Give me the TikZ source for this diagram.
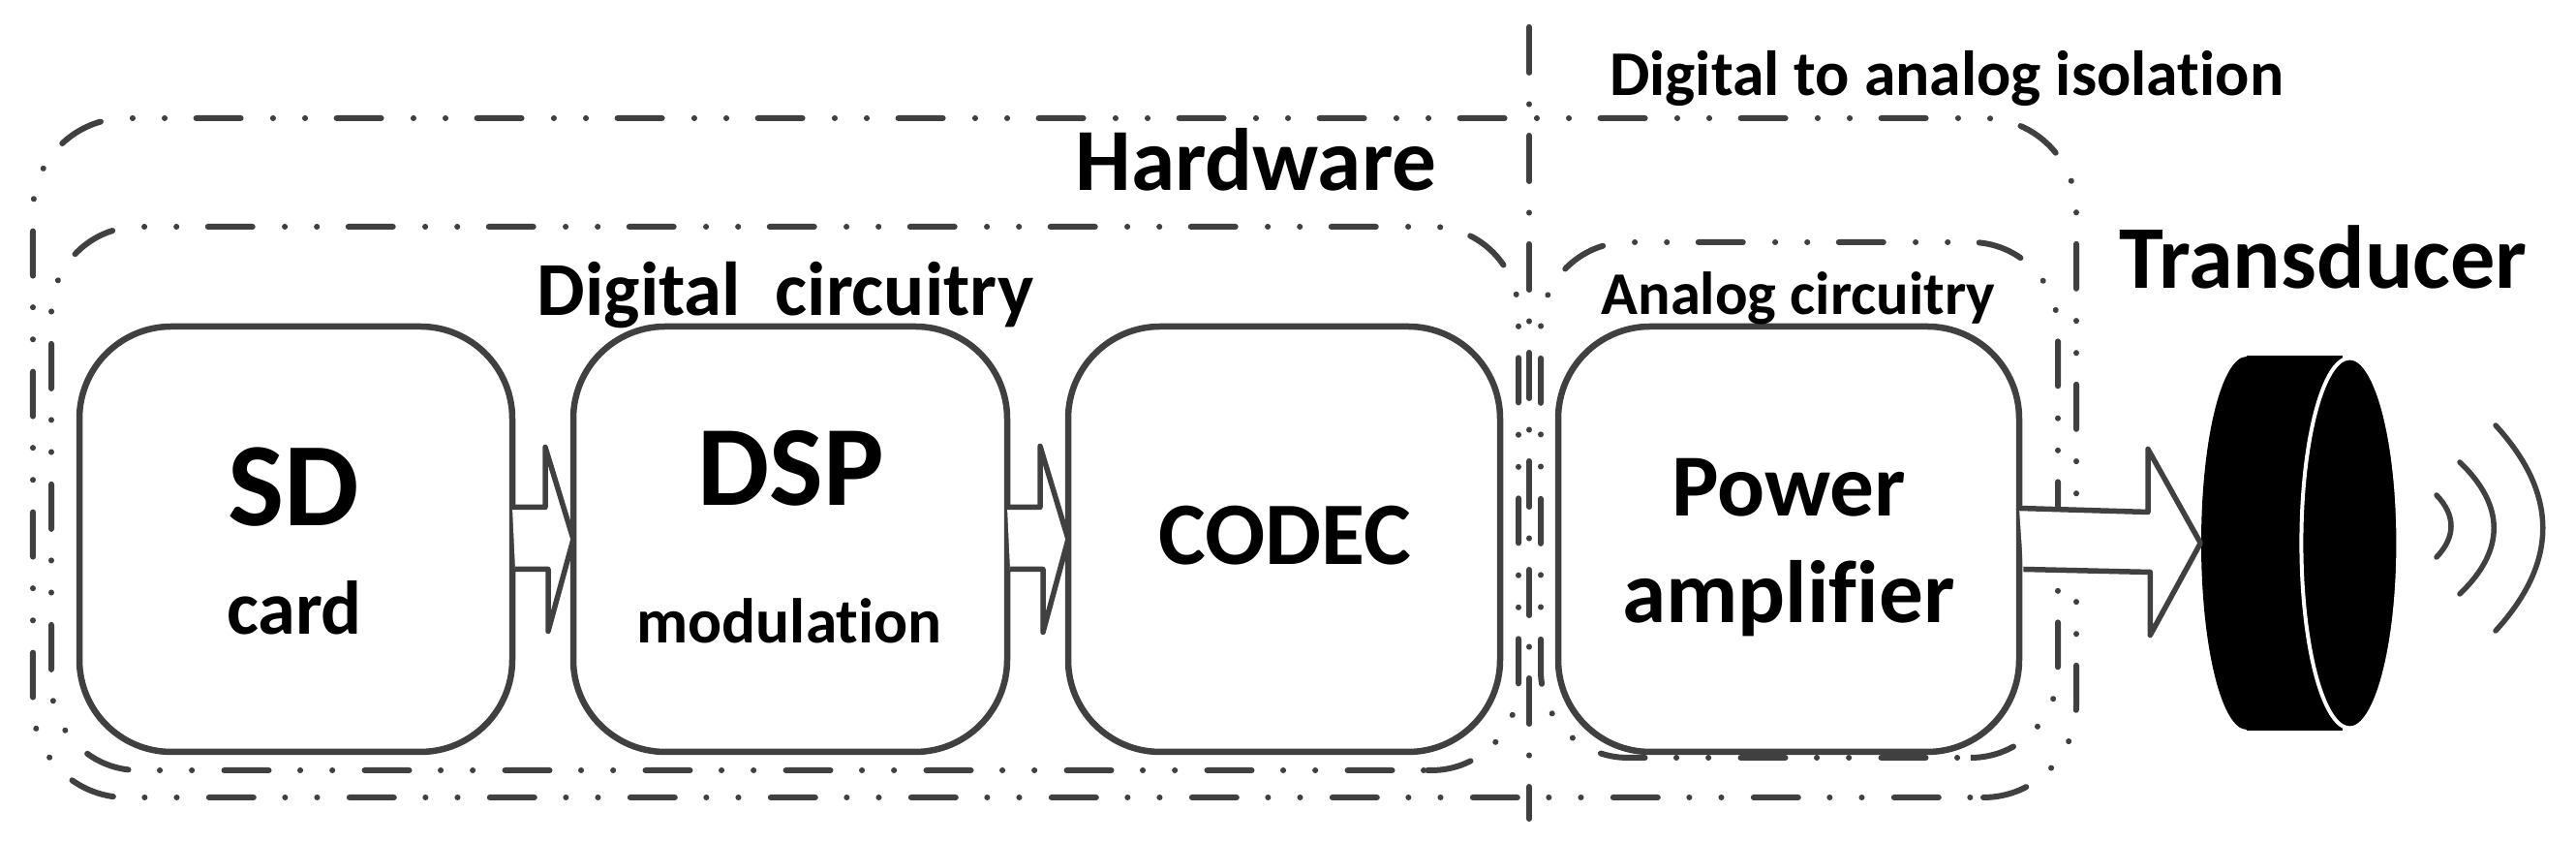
\documentclass[tikz,border=0pt]{standalone}
\usepackage{fontspec}
\setmainfont{Carlito}[Ligatures=NoCommon]
\usepackage{xcolor}
\usetikzlibrary{positioning,shapes.geometric,calc}
\definecolor{lineGray}{HTML}{404040}
\newcommand{\boldsize}[1]{\fontsize{#1}{#1}\selectfont\bfseries}
\tikzset{
  groupline/.style={draw=lineGray,line width=0.06cm,line cap=round,rounded corners=0.96cm,
    dash pattern=on 0.46cm off 0.325cm on 0.001cm off 0.33cm on 0.001cm off 0.333cm},
  blockbox/.style={draw=lineGray,line width=0.065cm,rounded corners=0.95cm,
    inner sep=0pt,outer sep=0pt,minimum height=4.39cm},
  flowarrow/.style={draw=lineGray,fill=white,line width=0.055cm,line join=round},
  isoline/.style={draw=lineGray,line width=0.06cm,line cap=round,
    dash pattern=on 0.47cm off 0.325cm on 0.001cm off 0.324cm},
  wave/.style={draw=lineGray,line width=0.055cm,line cap=round},
  tag/.style={text=black,inner sep=0pt,outer sep=0pt}
}
\begin{document}
\begin{tikzpicture}
  \useasboundingbox (0,0) rectangle (26.6,8.7);

  % dashed groups
  \draw[groupline] (20.48,0.47) -- (21.44,0.47) -- (21.44,7.48) -- (0.34,7.48) -- (0.34,0.47) -- (20.48,0.47);
  \draw[groupline,rounded corners=0.90cm] (14.74,0.75) -- (15.68,0.75) -- (15.68,6.36) -- (0.53,6.36) -- (0.53,0.75) -- (14.74,0.75);
  \draw[groupline,rounded corners=0.90cm] (20.35,0.88) -- (21.25,0.88) -- (21.25,6.20) -- (15.91,6.20) -- (15.91,0.88) -- (20.35,0.88);
  \coordinate (isotop) at (15.79,8.42);
  \coordinate (isobot) at (15.79,0.25);
  \draw[isoline] (isotop) -- (isobot);

  % blocks
  \node[blockbox,minimum width=4.47cm,anchor=south west] (sd) at (0.82,0.94) {};
  \node[blockbox,minimum width=4.48cm,right=0.63cm of sd] (dsp) {};
  \node[blockbox,minimum width=4.46cm,right=0.63cm of dsp] (codec) {};
  \node[blockbox,minimum width=4.76cm,right=0.60cm of codec] (power) {};

  % transducer
  \node[ellipse,fill=black,inner sep=0pt,minimum width=0.94cm,minimum height=3.85cm] (back) at (23.20,3.095) {};
  \node[ellipse,fill=black,inner sep=0pt,minimum width=1.00cm,minimum height=3.82cm,right=0.08cm of back] (front) {};
  \fill[black] (back.north) rectangle ([xshift=-0.07cm]back.south -| front.center);
  \node[ellipse,draw=white,fill=black,line width=0.04cm,inner sep=0pt,minimum width=1.00cm,minimum height=3.82cm] (face) at (front) {};

  % arrows
  \draw[flowarrow] ([yshift=0.33cm]sd.east) -- ++(0.34,0) -- ++(0,0.62) -- (dsp.west) -- ++(-0.26,-0.95) -- ++(0,0.64) -- ++(-0.34,0);
  \draw[flowarrow] ([yshift=0.33cm]dsp.east) -- ++(0.34,0) -- ++(0,0.63) -- (codec.west) -- ++(-0.26,-0.96) -- ++(0,0.65) -- ++(-0.34,0);
  \draw[flowarrow] ([yshift=0.32cm]power.east) -- ++(1.33,-0.04) -- ++(0,0.65) -- (back.west) -- ++(-0.52,-0.95) -- ++(0,0.65) -- ++(-1.31,0.03);

  % waves
  \draw[wave] (25.16,3.59) .. controls (25.36,3.38) and (25.36,3.16) .. (25.16,2.95);
  \draw[wave] (25.40,3.93) .. controls (25.87,3.48) and (25.87,3.02) .. (25.40,2.57);
  \draw[wave] (25.77,4.31) .. controls (26.42,3.60) and (26.42,2.90) .. (25.77,2.19);

  % labels
  \node[tag,font=\boldsize{26}] (hwlabel) at (12.97,7.05) {Hardware};
  \node[tag,font=\boldsize{22.4}] (diglabel) at (8.11,5.65) {Digital\ \ circuitry};
  \node[tag,font=\boldsize{17.8}] (anlabel) at (18.57,5.62) {Analog circuitry};
  \node[tag,font=\boldsize{18.7}] (isolabel) at (20.10,7.89) {Digital to analog isolation};
  \node[tag,font=\boldsize{26.3}] (trlabel) at (23.99,6.05) {Transducer};
  \node[tag,font=\boldsize{35}] (sdlabel) at (3.03,3.67) {SD};
  \node[tag,font=\boldsize{22.3}] (cardlabel) at (3.04,2.43) {card};
  \node[tag,font=\boldsize{33.5}] (dsplabel) at (8.17,3.87) {DSP};
  \node[tag,font=\boldsize{18.6}] (modlabel) at (8.15,2.29) {modulation};
  \node[tag,font=\boldsize{26.2}] (codeclabel) at (13.27,3.17) {CODEC};
  \node[tag,font=\boldsize{26}] (powlabel) at (18.47,3.67) {Power};
  \node[tag,font=\boldsize{26}] (amplabel) at (18.47,2.52) {amplifier};
\end{tikzpicture}
\end{document}
